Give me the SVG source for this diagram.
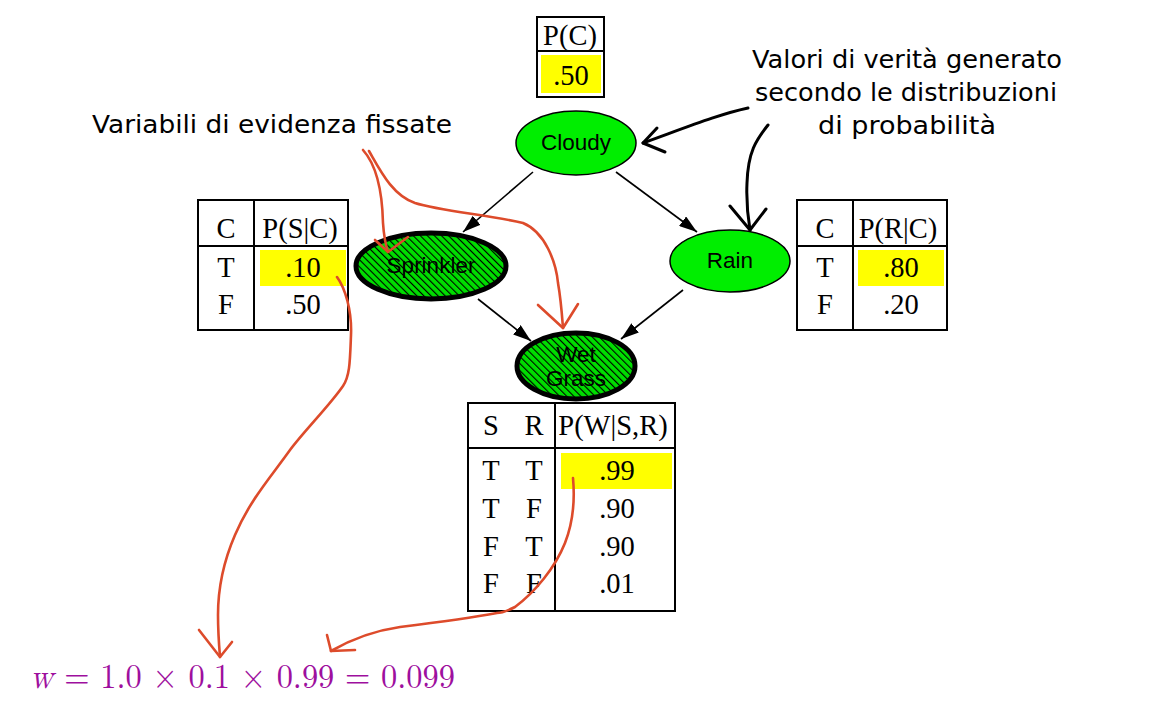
<svg xmlns="http://www.w3.org/2000/svg" width="1166" height="716" viewBox="0 0 1166 716">
<defs>
<style>
.tb{fill:#fff;stroke:#000;stroke-width:2}
.ln{stroke:#000;stroke-width:2}
.yl{fill:#ffff00}
.tt{font-family:"Liberation Serif","Times New Roman",serif;font-size:28.5px;fill:#000;text-anchor:middle}
.nl{font-family:"Liberation Sans",Arial,sans-serif;font-size:22.5px;fill:#000;text-anchor:middle}
.an{font-family:"Comic Sans MS","DejaVu Sans",sans-serif;font-size:24px;fill:#000}
.edge{stroke:#000;stroke-width:1.6;fill:none}
.red{stroke:#dd4b2b;stroke-width:2.6;fill:none;stroke-linecap:round;stroke-linejoin:round}
.blk{stroke:#000;stroke-width:3;fill:none;stroke-linecap:round;stroke-linejoin:round}
</style>
<pattern id="hatch" patternUnits="userSpaceOnUse" width="5" height="5" patternTransform="rotate(-45)">
<rect width="5" height="5" fill="#00dd00"/>
<line x1="0" y1="0" x2="0" y2="5" stroke="#000" stroke-width="2.2"/>
</pattern>
<marker id="ah" viewBox="0 0 18 12" refX="18" refY="6" markerWidth="18" markerHeight="12" markerUnits="userSpaceOnUse" orient="auto">
<path d="M0,0 L18,6 L0,12 Z" fill="#000"/>
</marker>
</defs>
<rect width="1166" height="716" fill="#fff"/>

<g id="connectors">
<line class="edge" x1="533" y1="172" x2="463" y2="232" marker-end="url(#ah)"/>
<line class="edge" x1="616" y1="172" x2="697" y2="232" marker-end="url(#ah)"/>
<line class="edge" x1="478" y1="299" x2="531" y2="341" marker-end="url(#ah)"/>
<line class="edge" x1="683" y1="290" x2="621" y2="339" marker-end="url(#ah)"/>
</g>

<g id="cloudy">
<ellipse cx="576" cy="143" rx="60" ry="32" fill="#00ee00" stroke="#000" stroke-width="1.5"/>
<text class="nl" x="576" y="150">Cloudy</text>
</g>
<g id="rain">
<ellipse cx="730" cy="261" rx="60" ry="31" fill="#00ee00" stroke="#000" stroke-width="1.5"/>
<text class="nl" x="730" y="268">Rain</text>
</g>
<g id="sprinkler">
<ellipse cx="431" cy="266" rx="75" ry="33" fill="url(#hatch)" stroke="#000" stroke-width="5"/>
<text class="nl" x="431" y="273">Sprinkler</text>
</g>
<g id="wetgrass">
<ellipse cx="576" cy="366" rx="59" ry="33" fill="url(#hatch)" stroke="#000" stroke-width="5"/>
<text class="nl" x="576" y="362">Wet</text>
<text class="nl" x="576" y="386">Grass</text>
</g>

<g id="table-pc">
<rect class="tb" x="537" y="17" width="67" height="80"/>
<line class="ln" x1="537" y1="51" x2="604" y2="51"/>
<rect class="yl" x="541" y="55" width="60" height="38"/>
<text class="tt" x="570" y="45">P(C)</text>
<text class="tt" x="571" y="85">.50</text>
</g>

<g id="table-ps">
<rect class="tb" x="198" y="200" width="150" height="130"/>
<line class="ln" x1="198" y1="246" x2="348" y2="246"/>
<line class="ln" x1="254" y1="200" x2="254" y2="330"/>
<rect class="yl" x="260" y="250" width="86" height="36"/>
<text class="tt" x="226" y="238">C</text>
<text class="tt" x="300" y="238">P(S|C)</text>
<text class="tt" x="226" y="277">T</text>
<text class="tt" x="303" y="277">.10</text>
<text class="tt" x="226" y="314">F</text>
<text class="tt" x="303" y="314">.50</text>
</g>

<g id="table-pr">
<rect class="tb" x="797" y="200" width="150" height="130"/>
<line class="ln" x1="797" y1="246" x2="947" y2="246"/>
<line class="ln" x1="853" y1="200" x2="853" y2="330"/>
<rect class="yl" x="858" y="250" width="86" height="36"/>
<text class="tt" x="825" y="238">C</text>
<text class="tt" x="898" y="238">P(R|C)</text>
<text class="tt" x="825" y="277">T</text>
<text class="tt" x="901" y="277">.80</text>
<text class="tt" x="825" y="314">F</text>
<text class="tt" x="901" y="314">.20</text>
</g>

<g id="table-pw">
<rect class="tb" x="468" y="403" width="207" height="208"/>
<line class="ln" x1="468" y1="448" x2="675" y2="448"/>
<line class="ln" x1="555" y1="403" x2="555" y2="611"/>
<rect class="yl" x="561" y="453" width="111" height="36"/>
<text class="tt" x="491" y="435">S</text>
<text class="tt" x="534" y="435">R</text>
<text class="tt" x="613" y="435">P(W|S,R)</text>
<text class="tt" x="491" y="480">T</text><text class="tt" x="534" y="480">T</text><text class="tt" x="617" y="480">.99</text>
<text class="tt" x="491" y="518">T</text><text class="tt" x="534" y="518">F</text><text class="tt" x="617" y="518">.90</text>
<text class="tt" x="491" y="556">F</text><text class="tt" x="534" y="556">T</text><text class="tt" x="617" y="556">.90</text>
<text class="tt" x="491" y="593">F</text><text class="tt" x="534" y="593">F</text><text class="tt" x="617" y="593">.01</text>
</g>

<g id="annotations">
<text class="an" x="92" y="133" textLength="360" lengthAdjust="spacingAndGlyphs">Variabili di evidenza fissate</text>
<text class="an" x="752" y="68" textLength="310" lengthAdjust="spacingAndGlyphs">Valori di verità generato</text>
<text class="an" x="755" y="101" textLength="302" lengthAdjust="spacingAndGlyphs">secondo le distribuzioni</text>
<text class="an" x="818" y="134" textLength="178" lengthAdjust="spacingAndGlyphs">di probabilità</text>

<path class="blk" d="M748,108 C720,114 690,126 643,143"/>
<path class="blk" d="M657,128 L643,143 L665,152"/>
<path class="blk" d="M768,125 C756,140 748,152 747,183 C746,205 748,218 750,230"/>
<path class="blk" d="M730,206 L750,230 L766,209"/>

<path class="red" d="M363,150 C372,160 382,180 383,223 C384,238 386,246 388,252"/>
<path class="red" d="M375,240 L388,252 L408,237"/>
<path class="red" d="M369,151 C380,170 392,195 415,203 C440,211 490,215 523,223 C545,232 556,262 558,283 C561,300 562,315 563,328"/>
<path class="red" d="M538,305 L563,328 L578,304"/>
<path class="red" d="M337,277 C345,288 352,310 351,335 C350,360 350,376 343,386 C330,405 305,430 290,450 C270,478 250,500 235,535 C222,565 218,590 218,615 C218,630 219,645 220,657"/>
<path class="red" d="M199,630 L220,657 L232,642"/>
<path class="red" d="M573,478 C575,500 574,520 565,543 C555,568 535,592 515,607 C505,612 500,613 497,613 C470,618 440,622 400,627 C372,631 350,640 331,651"/>
<path class="red" d="M327,635 L331,651 L355,650"/>

<text x="30" y="688" font-family="'Latin Modern Math','DejaVu Serif','Liberation Serif',serif" font-size="35" fill="#9e0f9e" textLength="425" lengthAdjust="spacingAndGlyphs"><tspan font-style="italic">w</tspan> = 1.0 × 0.1 × 0.99 = 0.099</text>
</g>
</svg>
